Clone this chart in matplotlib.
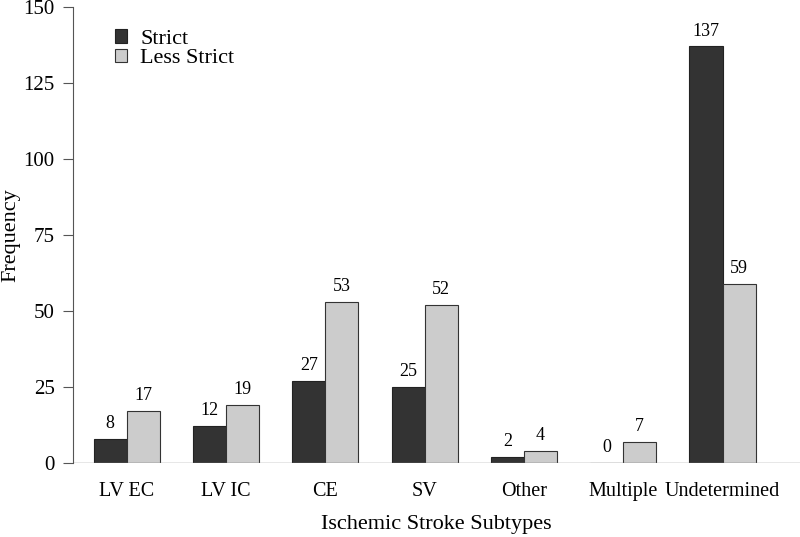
import matplotlib.pyplot as plt
import numpy as np

# raw data
subtypes = ["LV EC", "LV IC", "CE", "SV", "Other", "Multiple", "Undetermined"]
strict = [8, 12, 27, 25, 2, 0, 137]
less_strict = [17, 19, 53, 52, 4, 7, 59]

plt.rcParams['font.family'] = ['Liberation Serif', 'DejaVu Serif']

fig = plt.figure(figsize=(8, 5.37), dpi=100)
ax = fig.add_axes([0.091, 0.138, 0.909, 0.849])

x = np.arange(len(subtypes))
w = 0.333
b1 = ax.bar(x - w / 2, strict, w, color="#333333", edgecolor="#222222",
            linewidth=0.8, label="Strict")
b2 = ax.bar(x + w / 2, less_strict, w, color="#cccccc", edgecolor="#333333",
            linewidth=0.8, label="Less Strict")
ax.bar_label(b1, padding=5, fontsize=13)
ax.bar_label(b2, padding=5, fontsize=13)

ax.set_xlim(-0.544, 6.78)
ax.set_ylim(0, 150)
ax.set_yticks([0, 25, 50, 75, 100, 125, 150])
ax.set_xticks(x, subtypes)
ax.axhline(0, color="#888888", linewidth=1)

for s in ["top", "right", "bottom"]:
    ax.spines[s].set_visible(False)
ax.spines["left"].set_color("#555555")
ax.tick_params(axis="y", length=7, color="#555555", labelsize=15, pad=6)
ax.tick_params(axis="x", length=0, labelsize=14.5, pad=14)

ax.set_xlabel("Ischemic Stroke Subtypes", fontsize=16, labelpad=10)
ax.set_ylabel("Frequency", fontsize=16, labelpad=2)

ax.legend(loc="upper left", bbox_to_anchor=(0.03, 0.995), frameon=False,
          fontsize=16, handlelength=0.55, handleheight=0.55, handletextpad=0.6,
          labelspacing=0.0)

plt.savefig("out.png", dpi=100)
